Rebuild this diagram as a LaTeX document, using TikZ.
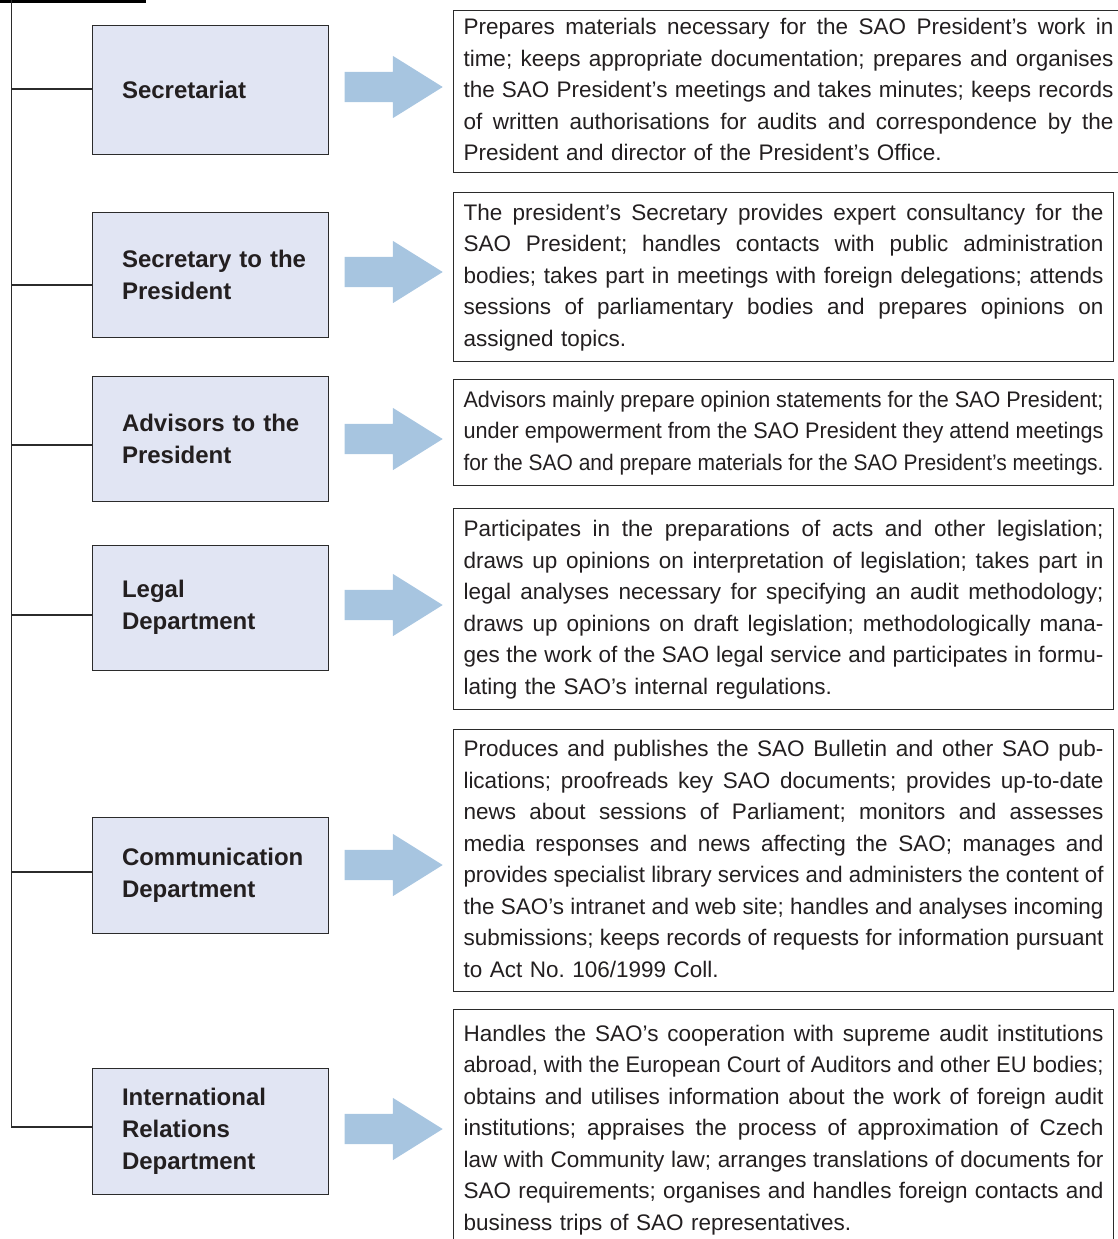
\documentclass[tikz,border=0pt]{standalone}
\usepackage{fontspec}
\setmainfont{Liberation Sans}
\usepackage{graphicx}
\usepackage{tikz}
\usetikzlibrary{shapes.arrows, positioning}
\definecolor{boxfill}{HTML}{E1E5F3}
\definecolor{arrowblue}{HTML}{A7C5E0}
\definecolor{linegray}{HTML}{2B2B2B}
\definecolor{textdark}{HTML}{231F20}
\frenchspacing
\newsavebox\fulllinebox
\newcommand\fullline[1]{{\spaceskip=0pt\xspaceskip=0pt
  \sbox\fulllinebox{#1}%
  \ifdim\wd\fulllinebox>\linewidth
    \strut\resizebox{\linewidth}{\ht\fulllinebox}{\usebox\fulllinebox}%
  \else
    \strut\makebox[\linewidth][s]{#1}%
  \fi\par}}
\tikzset{
    base/.style={draw=linegray, line width=1pt, text=textdark, rectangle},
    unitbox/.style={base, fill=boxfill, minimum width=236pt, text width=176pt, inner xsep=30pt, inner ysep=0pt, align=left, font=\bfseries\fontsize{24}{32}\selectfont},
    descbox/.style={base, fill=white, anchor=north west, text width=640pt, inner xsep=10pt, inner ysep=2pt, align=left, font=\fontsize{22.5}{31.5}\selectfont},
    bigarrow/.style={single arrow, fill=arrowblue, draw=none, minimum height=98pt, inner xsep=0pt, inner ysep=15pt, single arrow head extend=16pt, single arrow tip angle=64},
    branch/.style={draw=linegray, line width=1.6pt}
}
\begin{document}
\begin{tikzpicture}[x=1pt, y=-1pt]
    \useasboundingbox (0,0) rectangle (1117,1239);
    \coordinate (top) at (11.5,0);
    \coordinate (rulel) at (0,1.3);
    \coordinate (ruler) at (146,1.3);
    \draw [draw=black, line width=2.7pt] (rulel) -- (ruler);

    \node [unitbox, minimum height=128pt] (secr) at (210,90) {Secretariat};
    \node [unitbox, minimum height=125pt, below=57pt of secr] (secp) {\mbox{Secretary to the}\\President};
    \node [unitbox, minimum height=125pt, below=38pt of secp] (adv) {\mbox{Advisors to the}\\President};
    \node [unitbox, minimum height=125pt, below=43pt of adv] (legal) {Legal\\Department};
    \node [unitbox, minimum height=116pt, below=146pt of legal] (comm) {\mbox{Communication}\\Department};
    \node [unitbox, minimum height=126pt, below=134pt of comm] (intl) {International\\Relations\\Department};

    \foreach \b/\dy in {secr/1, secp/-10.5, adv/-6.5, legal/-7.5, comm/3, intl/4}
        \draw [branch] ([yshift=\dy]\b.west) -| (top);

    \foreach \b/\dy in {secr/3, secp/2.5, adv/-0.5, legal/2.5, comm/10, intl/2}
        \node [bigarrow, right=16pt of \b, yshift=\dy] (a\b) {};

    \node [descbox, text width=650pt, minimum height=162pt] (dsecr) at (453,10) {%
        \fullline{Prepares materials necessary for the SAO President’s work in}
        \fullline{time; keeps appropriate documentation; prepares and organises}
        \fullline{the SAO President’s meetings and takes minutes; keeps records}
        \fullline{of written authorisations for audits and correspondence by the}
        President and director of the President’s Office.\strut};
    \node [descbox, minimum height=169pt] (dsecp) at (453,192) {%
        \fullline{The president’s Secretary provides expert consultancy for the}
        \fullline{SAO President; handles contacts with public administration}
        \fullline{bodies; takes part in meetings with foreign delegations; attends}
        \fullline{sessions of parliamentary bodies and prepares opinions on}
        assigned topics.\strut};
    \node [descbox, minimum height=106pt] (dadv) at (453,379) {%
        \fullline{Advisors mainly prepare opinion statements for the SAO President;}
        \fullline{under empowerment from the SAO President they attend meetings}
        \fullline{for the SAO and prepare materials for the SAO President’s meetings.}};
    \node [descbox, minimum height=201pt] (dlegal) at (453,508) {%
        \fullline{Participates in the preparations of acts and other legislation;}
        \fullline{draws up opinions on interpretation of legislation; takes part in}
        \fullline{legal analyses necessary for specifying an audit methodology;}
        \fullline{draws up opinions on draft legislation; methodologically mana-}
        \fullline{ges the work of the SAO legal service and participates in formu-}
        lating the SAO’s internal regulations.\strut};
    \node [descbox, minimum height=262pt] (dcomm) at (453,729) {%
        \fullline{Produces and publishes the SAO Bulletin and other SAO pub-}
        \fullline{lications; proofreads key SAO documents; provides up-to-date}
        \fullline{news about sessions of Parliament; monitors and assesses}
        \fullline{media responses and news affecting the SAO; manages and}
        \fullline{provides specialist library services and administers the content of}
        \fullline{the SAO’s intranet and web site; handles and analyses incoming}
        \fullline{submissions; keeps records of requests for information pursuant}
        to Act No.\ 106/1999 Coll.\strut};
    \node [descbox, minimum height=240pt] (dintl) at (453,1009) {%
        \fullline{Handles the SAO’s cooperation with supreme audit institutions}
        \fullline{abroad, with the European Court of Auditors and other EU bodies;}
        \fullline{obtains and utilises information about the work of foreign audit}
        \fullline{institutions; appraises the process of approximation of Czech}
        \fullline{law with Community law; arranges translations of documents for}
        \fullline{SAO requirements; organises and handles foreign contacts and}
        business trips of SAO representatives.\strut};
\end{tikzpicture}
\end{document}
